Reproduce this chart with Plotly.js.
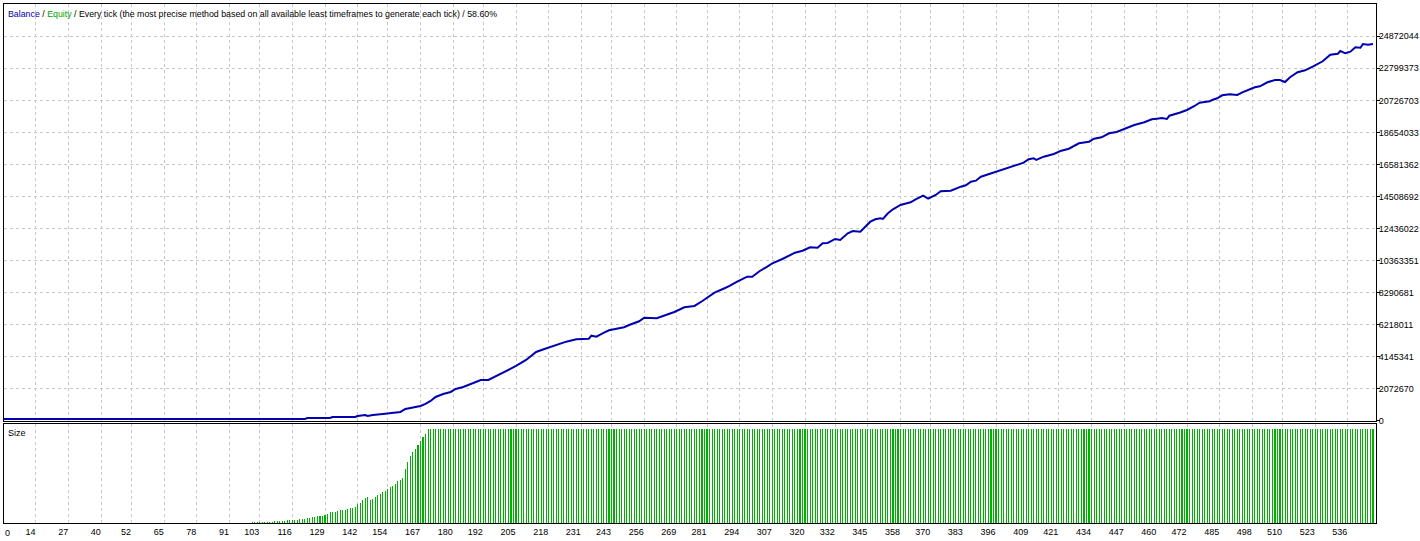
<!DOCTYPE html>
<html>
<head>
<meta charset="utf-8">
<script src="https://cdn.plot.ly/plotly-3.0.1.min.js"></script>
<style>
  html, body { margin: 0; padding: 0; background: #ffffff; }
  #chart { width: 1420px; height: 541px; }
</style>
</head>
<body>
<div id="chart"></div>
<script>
// ---- Data ----
// Balance curve: trade number -> balance
const balanceTrades = [0, 121, 122, 131, 132, 141, 142, 145, 146, 148, 152, 155, 159, 161, 163, 167, 169, 171, 173, 176, 179, 181, 184, 187, 189, 191, 194, 199, 205, 209, 213, 216, 222, 225, 229, 234, 235, 237, 240, 242, 248, 250, 254, 256, 261, 264, 268, 272, 276, 279, 282, 284, 288, 290, 293, 297, 299, 302, 305, 307, 311, 316, 319, 322, 325, 327, 329, 332, 334, 337, 339, 342, 346, 348, 350, 351, 353, 355, 358, 362, 364, 367, 369, 372, 374, 378, 382, 384, 386, 388, 390, 394, 396, 400, 403, 407, 409, 411, 412, 415, 419, 422, 425, 429, 433, 435, 438, 441, 444, 447, 451, 455, 458, 460, 462, 464, 465, 469, 472, 475, 477, 481, 482, 484, 486, 489, 492, 494, 496, 499, 501, 504, 507, 509, 511, 513, 516, 519, 522, 526, 529, 532, 533, 535, 537, 539, 541, 542, 544, 546];
const balanceValues = [129000, 129000, 194000, 194000, 258600, 258600, 323000, 388000, 323000, 388000, 452500, 517000, 582000, 776000, 840000, 970000, 1099000, 1293000, 1552000, 1746000, 1875000, 2069000, 2198000, 2392000, 2521000, 2651000, 2651000, 3039000, 3556000, 3944000, 4461000, 4635000, 4978000, 5127000, 5282000, 5321000, 5515000, 5450000, 5709000, 5864000, 6058000, 6207000, 6446000, 6678000, 6640000, 6808000, 7047000, 7351000, 7435000, 7739000, 8081000, 8295000, 8579000, 8728000, 9006000, 9329000, 9329000, 9698000, 9975000, 10195000, 10473000, 10881000, 11010000, 11230000, 11204000, 11488000, 11508000, 11766000, 11702000, 12135000, 12284000, 12238000, 12885000, 13040000, 13105000, 13059000, 13428000, 13687000, 13964000, 14139000, 14333000, 14566000, 14372000, 14611000, 14850000, 14889000, 15148000, 15238000, 15471000, 15536000, 15794000, 16014000, 16117000, 16337000, 16486000, 16699000, 16919000, 16984000, 16874000, 17087000, 17262000, 17475000, 17604000, 17954000, 18057000, 18251000, 18341000, 18600000, 18684000, 18897000, 19136000, 19311000, 19505000, 19544000, 19589000, 19524000, 19738000, 19932000, 20106000, 20365000, 20578000, 20669000, 20753000, 20863000, 21057000, 21121000, 21076000, 21250000, 21399000, 21574000, 21639000, 21897000, 22046000, 22046000, 21917000, 22221000, 22544000, 22673000, 22906000, 23255000, 23682000, 23746000, 23921000, 23772000, 23875000, 24160000, 24134000, 24373000, 24328000, 24373000];

// Size (lot) bars, relative units, one bar per trade starting at trade 100
const sizeFirstTrade = 100;
const sizeValues = [
  1.0, 1.0, 1.0, 1.0, 1.0, 1.0, 1.0, 1.0, 1.0, 1.8,
  1.8, 1.8, 1.8, 1.8, 2.8, 2.8, 2.8, 2.8, 2.8, 3.9,
  3.9, 3.9, 5.0, 5.0, 6.0, 6.0, 7.1, 7.1, 7.1, 8.2,
  9.3, 11.4, 11.4, 11.4, 12.5, 13.5, 13.5, 13.5, 14.6, 15.7,
  15.7, 16.7, 19.9, 21.0, 24.2, 26.3, 27.4, 24.2, 25.3, 27.4,
  29.5, 30.6, 32.7, 33.8, 35.9, 38.1, 39.1, 41.3, 44.5, 45.6,
  47.7, 57.3, 64.8, 71.2, 75.4, 78.6, 82.9, 87.2, 91.5, 94.7,
  100, 100, 100, 100, 100, 100, 100, 100, 100, 100,
  100, 100, 100, 100, 100, 100, 100, 100, 100, 100,
  100, 100, 100, 100, 100, 100, 100, 100, 100, 100,
  100, 100, 100, 100, 100, 100, 100, 100, 100, 100,
  100, 100, 100, 100, 100, 100, 100, 100, 100, 100,
  100, 100, 100, 100, 100, 100, 100, 100, 100, 100,
  100, 100, 100, 100, 100, 100, 100, 100, 100, 100,
  100, 100, 100, 100, 100, 100, 100, 100, 100, 100,
  100, 100, 100, 100, 100, 100, 100, 100, 100, 100,
  100, 100, 100, 100, 100, 100, 100, 100, 100, 100,
  100, 100, 100, 100, 100, 100, 100, 100, 100, 100,
  100, 100, 100, 100, 100, 100, 100, 100, 100, 100,
  100, 100, 100, 100, 100, 100, 100, 100, 100, 100,
  100, 100, 100, 100, 100, 100, 100, 100, 100, 100,
  100, 100, 100, 100, 100, 100, 100, 100, 100, 100,
  100, 100, 100, 100, 100, 100, 100, 100, 100, 100,
  100, 100, 100, 100, 100, 100, 100, 100, 100, 100,
  100, 100, 100, 100, 100, 100, 100, 100, 100, 100,
  100, 100, 100, 100, 100, 100, 100, 100, 100, 100,
  100, 100, 100, 100, 100, 100, 100, 100, 100, 100,
  100, 100, 100, 100, 100, 100, 100, 100, 100, 100,
  100, 100, 100, 100, 100, 100, 100, 100, 100, 100,
  100, 100, 100, 100, 100, 100, 100, 100, 100, 100,
  100, 100, 100, 100, 100, 100, 100, 100, 100, 100,
  100, 100, 100, 100, 100, 100, 100, 100, 100, 100,
  100, 100, 100, 100, 100, 100, 100, 100, 100, 100,
  100, 100, 100, 100, 100, 100, 100, 100, 100, 100,
  100, 100, 100, 100, 100, 100, 100, 100, 100, 100,
  100, 100, 100, 100, 100, 100, 100, 100, 100, 100,
  100, 100, 100, 100, 100, 100, 100, 100, 100, 100,
  100, 100, 100, 100, 100, 100, 100, 100, 100, 100,
  100, 100, 100, 100, 100, 100, 100, 100, 100, 100,
  100, 100, 100, 100, 100, 100, 100, 100, 100, 100,
  100, 100, 100, 100, 100, 100, 100, 100, 100, 100,
  100, 100, 100, 100, 100, 100, 100, 100, 100, 100,
  100, 100, 100, 100, 100, 100, 100, 100, 100, 100,
  100, 100, 100, 100, 100, 100, 100, 100, 100, 100,
  100, 100, 100, 100, 100, 100, 100
];

// Axis tick labels
const xTickLabels = [14, 27, 40, 52, 65, 78, 91, 103, 116, 129, 142, 154, 167, 180, 192, 205, 218, 231, 243, 256, 269, 281, 294, 307, 320, 332, 345, 358, 370, 383, 396, 409, 421, 434, 447, 460, 472, 485, 498, 510, 523, 536];
const yTickLabels = [0, 2072670, 4145341, 6218011, 8290681, 10363351, 12436022, 14508692, 16581362, 18654033, 20726703, 22799373, 24872044];

const titleParts = { balance: "Balance", equity: "Equity", rest: " / Every tick (the most precise method based on all available least timeframes to generate each tick) / 58.60%" };

// ---- Build ----
const sizeTrades = sizeValues.map((v, i) => sizeFirstTrade + i);

const FONT = "Liberation Sans, Arial, sans-serif";
const FS = 9;
const GRID = "#c8c8c8";

const traces = [
  {
    type: "scatter", mode: "lines",
    x: balanceTrades, y: balanceValues,
    xaxis: "x2", yaxis: "y2",
    line: { color: "#0000b0", width: 2 },
    hoverinfo: "skip", showlegend: false
  },
  {
    type: "bar",
    x: sizeTrades, y: sizeValues,
    xaxis: "x", yaxis: "y",
    width: 0.42,
    marker: { color: "#00b000", line: { width: 0 } },
    hoverinfo: "skip", showlegend: false
  }
];

const xRange = [1.27, 547.2];
const layout = {
  width: 1420, height: 541,
  margin: { l: 4, r: 44, t: 4, b: 18, pad: 0 },
  paper_bgcolor: "#ffffff", plot_bgcolor: "#ffffff",
  font: { family: FONT, size: FS, color: "#000000" },
  bargap: 0,
  xaxis: {
    domain: [0, 1], anchor: "y", range: xRange,
    tickmode: "array", tickvals: xTickLabels, ticktext: xTickLabels.map(String),
    ticks: "", ticklabelposition: "outside left",
    showgrid: true, gridcolor: GRID, gridwidth: 1, griddash: "3px,3px",
    showline: true, linecolor: "#000000", linewidth: 1, mirror: true,
    zeroline: false, tickfont: { family: FONT, size: FS, color: "#000000" }
  },
  xaxis2: {
    domain: [0, 1], anchor: "y2", matches: "x", range: xRange,
    tickmode: "array", tickvals: xTickLabels,
    showticklabels: false, ticks: "",
    showgrid: true, gridcolor: GRID, gridwidth: 1, griddash: "3px,3px",
    showline: true, linecolor: "#000000", linewidth: 1, mirror: true,
    zeroline: false
  },
  yaxis: {
    domain: [0, 0.19075], anchor: "x", range: [0, 105.3],
    showticklabels: false, ticks: "", showgrid: false, zeroline: false,
    showline: true, linecolor: "#000000", linewidth: 1, mirror: true
  },
  yaxis2: {
    domain: [0.19653, 1], anchor: "x2", side: "right",
    range: [-2000, 26959050],
    tickmode: "array", tickvals: yTickLabels, ticktext: yTickLabels.map(String),
    ticks: "outside", ticklen: 3, tickcolor: "#000000", tickwidth: 1,
    ticklabelstandoff: -3,
    showgrid: true, gridcolor: GRID, gridwidth: 1, griddash: "3px,3px",
    showline: true, linecolor: "#000000", linewidth: 1, mirror: true,
    zeroline: false, tickfont: { family: FONT, size: FS, color: "#000000" }
  },
  annotations: [
    {
      xref: "paper", yref: "paper", x: 0, y: 1, xanchor: "left", yanchor: "top",
      xshift: 2, yshift: -3, showarrow: false, align: "left",
      text: '<span style="color:#0000b0">' + titleParts.balance + '</span> / <span style="color:#00a000">' + titleParts.equity + '</span>' + titleParts.rest,
      font: { family: FONT, size: 8.8, color: "#000000" }
    },
    {
      xref: "paper", yref: "paper", x: 0, y: 0.19075, xanchor: "left", yanchor: "top",
      xshift: 2, yshift: -2, showarrow: false,
      text: "Size", font: { family: FONT, size: FS, color: "#000000" }
    },
    {
      xref: "paper", yref: "paper", x: 0, y: 0, xanchor: "left", yanchor: "top",
      xshift: -1, yshift: -3, showarrow: false,
      text: "0", font: { family: FONT, size: FS, color: "#000000" }
    }
  ]
};

Plotly.newPlot("chart", traces, layout, { staticPlot: true, displayModeBar: false });
</script>
</body>
</html>
